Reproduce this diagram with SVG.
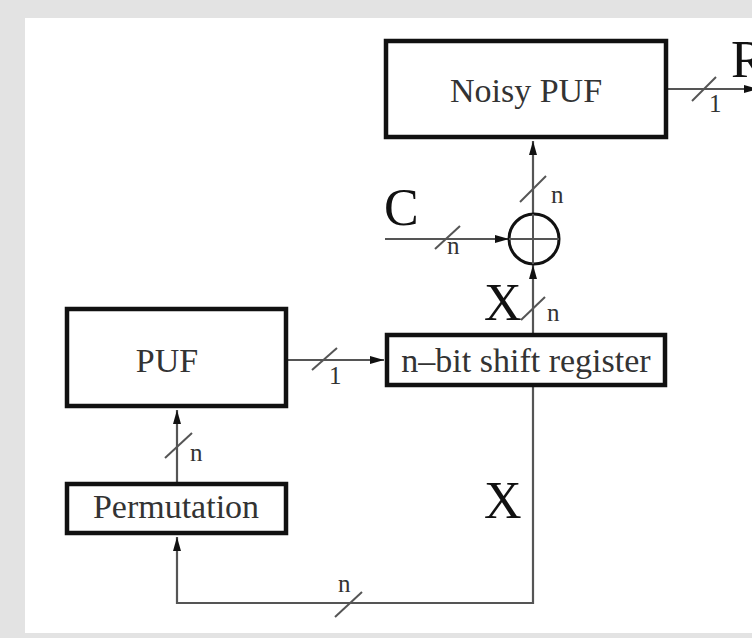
<svg xmlns="http://www.w3.org/2000/svg" width="752" height="638" viewBox="0 0 752 638">
<style>
.box{fill:#fff;stroke:#111;stroke-width:4.5}
.lbl{font-family:"Liberation Serif","Times New Roman",serif;font-size:34px;fill:#333}
.big{font-family:"Liberation Serif","Times New Roman",serif;font-size:52px;fill:#111}
.sm{font-family:"Liberation Serif","Times New Roman",serif;font-size:25px;fill:#333}
.wire{fill:none;stroke:#555;stroke-width:2.2}
.slash{stroke:#555;stroke-width:2}
</style>
<defs>
<marker id="arr" viewBox="0 0 14 8" refX="14" refY="4" markerWidth="14" markerHeight="8" orient="auto" markerUnits="userSpaceOnUse">
<path d="M0,0 L14,4 L0,8 z" fill="#111"/>
</marker>
</defs>
<rect x="0" y="0" width="752" height="638" fill="#e3e3e3"/>
<rect x="25" y="18" width="727" height="615" fill="#fff"/>

<g id="connectors">
<path class="wire" d="M667,89 H758" marker-end="url(#arr)"/>
<path class="wire" d="M533,214 V141" marker-end="url(#arr)"/>
<path class="wire" d="M385,239 H509" marker-end="url(#arr)"/>
<path class="wire" d="M533,333 V265" marker-end="url(#arr)"/>
<path class="wire" d="M288,360 H384" marker-end="url(#arr)"/>
<path class="wire" d="M177,482 V410" marker-end="url(#arr)"/>
<path class="wire" d="M533,387 V603 H177 V537" marker-end="url(#arr)"/>
<line class="slash" x1="692" y1="101" x2="716" y2="77"/>
<line class="slash" x1="520" y1="202" x2="546" y2="176"/>
<line class="slash" x1="435" y1="249" x2="460" y2="226"/>
<line class="slash" x1="521" y1="320" x2="545" y2="297"/>
<line class="slash" x1="312" y1="370" x2="337" y2="348"/>
<line class="slash" x1="165" y1="458" x2="192" y2="433"/>
<line class="slash" x1="335" y1="617" x2="362" y2="592"/>
<text class="sm" x="709" y="112">1</text>
<text class="sm" x="551" y="203">n</text>
<text class="sm" x="447" y="254">n</text>
<text class="sm" x="547" y="321">n</text>
<text class="sm" x="329" y="384">1</text>
<text class="sm" x="190" y="461">n</text>
<text class="sm" x="338" y="592">n</text>
<text class="big" x="731" y="77">R</text>
<text class="big" x="384" y="225">C</text>
<text class="big" x="484" y="320">X</text>
<text class="big" x="484" y="518">X</text>
</g>

<g id="noisy-puf">
<rect class="box" x="386" y="41" width="280" height="96"/>
<text class="lbl" x="526" y="102" text-anchor="middle">Noisy PUF</text>
</g>

<g id="xor">
<circle cx="534" cy="239" r="25" fill="none" stroke="#111" stroke-width="3"/>
<line x1="509" y1="239" x2="559" y2="239" stroke="#555" stroke-width="2"/>
<line x1="533" y1="214" x2="533" y2="264" stroke="#555" stroke-width="2"/>
</g>

<g id="shift-register">
<rect class="box" x="387" y="335" width="278" height="50"/>
<text class="lbl" x="526" y="372" text-anchor="middle">n–bit shift register</text>
</g>

<g id="puf">
<rect class="box" x="67" y="309" width="219" height="97"/>
<text class="lbl" x="167" y="372" text-anchor="middle">PUF</text>
</g>

<g id="permutation">
<rect class="box" x="67" y="484" width="219" height="49"/>
<text class="lbl" x="176" y="518" text-anchor="middle">Permutation</text>
</g>
</svg>
